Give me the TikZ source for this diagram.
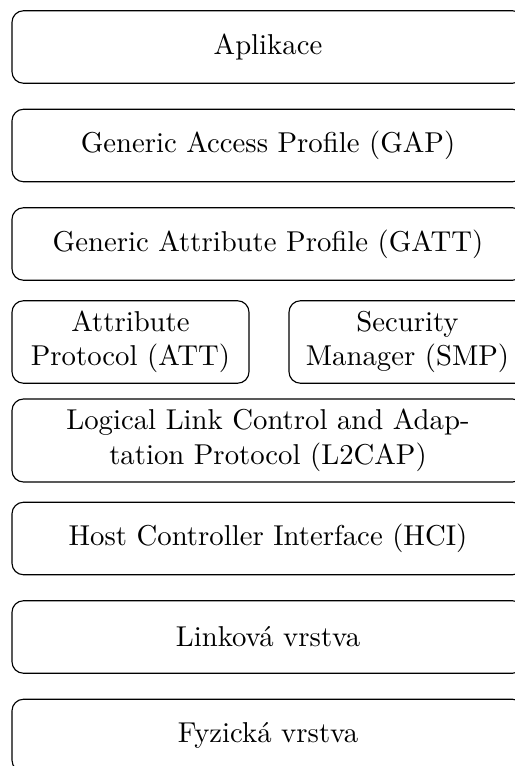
\documentclass[tikz,border=0pt]{standalone}
\usetikzlibrary{positioning}
\newlength\ux
\setlength\ux{0.348pt}
\tikzset{
  layer/.style={draw, rounded corners=4pt, align=center, inner sep=0pt,
    minimum width=512\ux, minimum height=72.5\ux},
  halflayer/.style={layer, minimum width=237\ux, minimum height=82.5\ux},
  tall/.style={layer, minimum height=83\ux}
}
\begin{document}
\begin{tikzpicture}[x=\ux, y=-\ux]
  \useasboundingbox (0,0) rectangle (515,766);
  \clip (0,0) rectangle (515,766);
  \node[layer] (app)  at (268,47)    {Aplikace};
  \node[layer] (gap)  at (268,145.5) {Generic Access Profile (GAP)};
  \node[layer] (gatt) at (268,244)   {Generic Attribute Profile (GATT)};
  \node[halflayer] (att) at (130.5,342) {Attribute\\Protocol (ATT)};
  \node[halflayer] (smp) at (407.5,342) {Security\\Manager (SMP)};
  \node[tall]  (l2cap) at (268,440.5) {Logical Link Control and Adap-\\tation Protocol (L2CAP)};
  \node[layer] (hci)  at (268,538.5) {Host Controller Interface (HCI)};
  \node[layer] (link) at (268,637)   {Linková vrstva};
  \node[layer] (phy)  at (268,735.5) {Fyzická vrstva};
\end{tikzpicture}
\end{document}
